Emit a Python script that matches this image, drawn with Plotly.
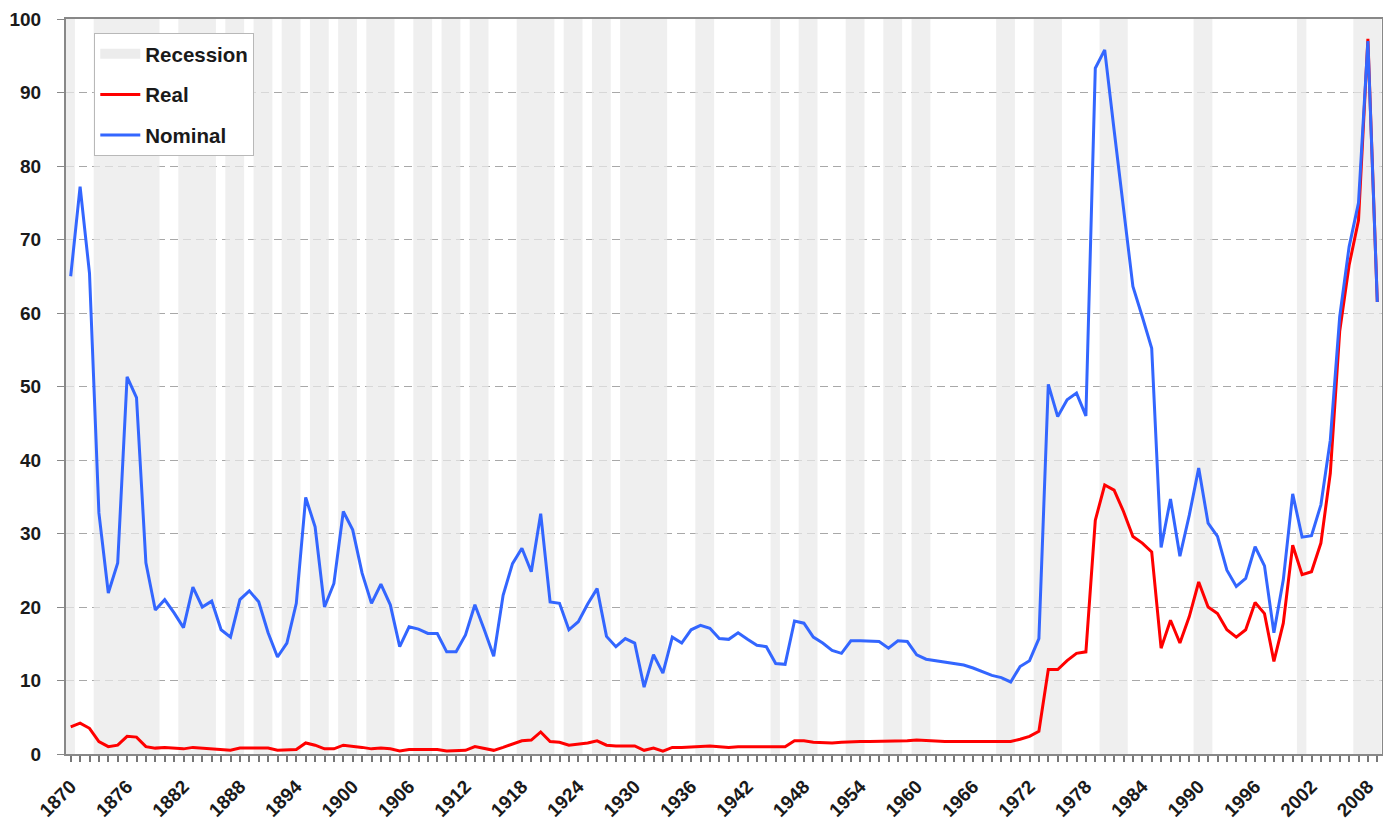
import plotly.graph_objects as go

years = list(range(1870, 2010))

nominal = [
    65.0, 77.2, 65.4, 32.8, 21.9, 26.0, 51.3, 48.5, 26.0, 19.6,
    21.0, 19.2, 17.2, 22.7, 20.0, 20.8, 16.9, 15.9, 21.0, 22.2,
    20.7, 16.5, 13.2, 15.1, 20.5, 34.9, 30.9, 20.0, 23.2, 33.0,
    30.5, 24.6, 20.5, 23.1, 20.3, 14.6, 17.3, 17.0, 16.4, 16.4,
    13.9, 13.9, 16.2, 20.3, 16.9, 13.3, 21.6, 25.9, 28.0, 24.8,
    32.7, 20.7, 20.5, 16.9, 18.0, 20.4, 22.5, 16.0, 14.6, 15.7,
    15.1, 9.1, 13.5, 11.0, 15.9, 15.1, 16.9, 17.5, 17.1, 15.7,
    15.6, 16.5, 15.6, 14.8, 14.6, 12.3, 12.2, 18.1, 17.8, 15.9,
    15.1, 14.1, 13.7, 15.4, 15.4, 15.4, 15.3, 14.4, 15.4, 15.3,
    13.5, 12.9, 12.7, 12.6, 12.3, 12.1, 11.7, 11.2, 10.7, 10.4,
    9.8, 11.9, 12.7, 15.7, 50.3, 45.9, 48.2, 49.1, 46.0, 93.3,
    95.8, 84.9, 74.0, 63.6, 59.5, 55.2, 28.1, 34.7, 26.9, 32.5,
    38.9, 31.4, 29.6, 25.0, 22.8, 23.9, 28.2, 25.6, 16.5, 23.7,
    35.4, 29.5, 29.7, 33.9, 42.7, 59.5, 69.0, 75.0, 97.0, 61.5,
]

real = [
    3.7, 4.2, 3.5, 1.7, 1.0, 1.2, 2.4, 2.3, 1.0, 0.8,
    0.9, 0.8, 0.7, 0.9, 0.8, 0.8, 0.7, 0.5, 0.8, 0.8,
    0.8, 0.8, 0.5, 0.5, 0.6, 1.5, 1.2, 0.7, 0.7, 1.2,
    1.1, 0.9, 0.7, 0.8, 0.7, 0.4, 0.6, 0.6, 0.6, 0.6,
    0.4, 0.4, 0.5, 1.0, 0.7, 0.5, 0.9, 1.4, 1.8, 1.9,
    3.0, 1.7, 1.6, 1.2, 1.3, 1.5, 1.8, 1.2, 1.1, 1.1,
    1.1, 0.5, 0.8, 0.4, 0.9, 0.9, 1.0, 1.1, 1.1, 1.0,
    0.9, 1.0, 1.0, 1.1, 1.1, 1.0, 1.0, 1.8, 1.8, 1.6,
    1.5, 1.5, 1.6, 1.7, 1.7, 1.7, 1.7, 1.7, 1.8, 1.8,
    1.9, 1.8, 1.7, 1.7, 1.7, 1.7, 1.7, 1.7, 1.7, 1.7,
    1.7, 2.0, 2.4, 3.1, 11.5, 11.5, 12.7, 13.7, 13.9, 31.8,
    36.6, 35.9, 33.0, 29.6, 28.7, 27.5, 14.4, 18.2, 15.1, 18.7,
    23.4, 20.0, 19.1, 16.9, 15.9, 16.9, 20.6, 19.1, 12.6, 17.8,
    28.4, 24.4, 24.8, 28.7, 38.2, 57.5, 66.5, 72.6, 97.3, 61.5,
]

rec_start = [1870, 1873, 1882, 1887, 1890, 1893, 1896, 1899, 1902, 1907, 1910,
             1913, 1918, 1923, 1926, 1929, 1937, 1945, 1948, 1953, 1957, 1960,
             1969, 1973, 1980, 1990, 2001, 2007]
rec_end = [1870, 1879, 1885, 1888, 1891, 1894, 1897, 1900, 1904, 1908, 1911,
           1914, 1921, 1924, 1927, 1933, 1938, 1945, 1949, 1954, 1958, 1961,
           1970, 1975, 1982, 1991, 2001, 2009]

y_ticks = list(range(0, 101, 10))
x_tick_step = 6

FONT = "Liberation Sans, Arial, sans-serif"

# Recession bands as filled polygons spanning the y-range
y_lo, y_hi = y_ticks[0], y_ticks[-1]
bx, by = [], []
for s, e in zip(rec_start, rec_end):
    a = max(s - 0.55, years[0] - 0.5)
    b = min(e + 0.45, years[-1] + 0.5)
    bx += [a, a, b, b, a, None]
    by += [y_lo, y_hi, y_hi, y_lo, y_lo, None]

fig = go.Figure()
fig.add_trace(go.Scatter(
    x=bx, y=by, mode="lines", fill="toself",
    fillcolor="rgba(233,233,233,0.72)", line=dict(width=0),
    hoverinfo="skip", showlegend=False,
))
fig.add_trace(go.Scatter(
    x=[None], y=[None], mode="lines", name="Recession",
    line=dict(color="#ececec", width=12), legendgroup="rec",
))
fig.add_trace(go.Scatter(
    x=years, y=real, mode="lines", name="Real",
    line=dict(color="#ff0000", width=3), legendgroup="real",
))
fig.add_trace(go.Scatter(
    x=years, y=nominal, mode="lines", name="Nominal",
    line=dict(color="#3366ff", width=3), legendgroup="nom",
))

fig.update_layout(
    width=1383, height=822,
    margin=dict(l=66, r=1, t=19, b=68, autoexpand=False),
    paper_bgcolor="white", plot_bgcolor="white",
    font=dict(family=FONT, size=18, color="#1a1a1a", weight="bold"),
    legend=dict(
        x=0.0215, y=0.981, xanchor="left", yanchor="top",
        bgcolor="white", bordercolor="#b8b8b8", borderwidth=1,
        font=dict(family=FONT, size=20.5, color="#1a1a1a", weight="bold"),
        tracegroupgap=11, itemwidth=40,
    ),
    xaxis=dict(
        range=[years[0] - 0.5, years[-1] + 0.5], automargin=False,
        tick0=years[0], dtick=x_tick_step, tickangle=-45,
        ticks="outside", ticklen=6, tickwidth=2, tickcolor="#777",
        ticklabelstandoff=6,
        minor=dict(dtick=1, ticks="outside", ticklen=6, tickwidth=2,
                   tickcolor="#777", showgrid=False),
        showline=True, linecolor="#888", linewidth=2, mirror=True,
        showgrid=False, zeroline=False,
        tickfont=dict(family=FONT, size=19, color="#1a1a1a", weight="bold"),
    ),
    yaxis=dict(
        range=[y_lo, y_hi], tickvals=y_ticks, automargin=False,
        ticks="outside", ticklen=7, tickwidth=1, tickcolor="#888",
        ticklabelstandoff=12,
        showline=True, linecolor="#888", linewidth=2, mirror=True,
        showgrid=True, gridcolor="#a8a8a8", gridwidth=1, griddash="8px,5px",
        zeroline=False,
        tickfont=dict(family=FONT, size=19, color="#1a1a1a", weight="bold"),
    ),
)

fig.write_html(
    "out.html",
    config={"displayModeBar": False},
    post_script="document.body.style.margin='0';document.body.style.overflow='hidden';",
)
